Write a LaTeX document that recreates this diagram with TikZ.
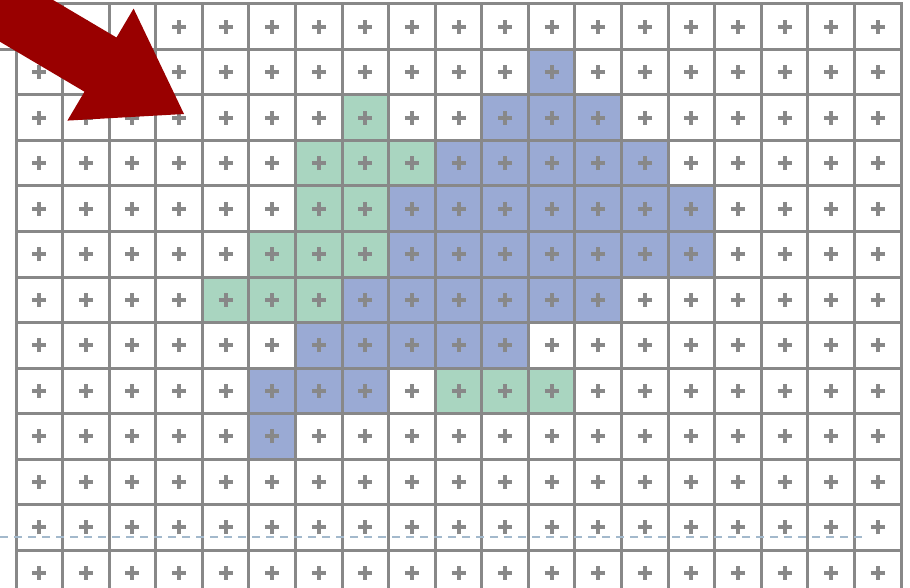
\documentclass[tikz,border=0pt]{standalone}
\usepackage{tikz}
\usetikzlibrary{backgrounds}
\usepackage{xcolor}

\definecolor{gridgray}{HTML}{888888}
\definecolor{cellblue}{HTML}{9AAAD4}
\definecolor{cellgreen}{HTML}{A9D5C0}
\definecolor{arrowred}{HTML}{990000}
\definecolor{dashblue}{HTML}{A3B9CC}

\begin{document}
\begin{tikzpicture}[
  x=1pt, y=-1pt,
  cell/.style={draw=gridgray, line width=3pt, minimum width=46.58pt,
               minimum height=45.5pt, inner sep=0pt, outer sep=0pt,
               path picture={\draw[plusmark]
                 (path picture bounding box.center) ++(-7pt,0) -- ++(14pt,0)
                 (path picture bounding box.center) ++(0,-7pt) -- ++(0,14pt);}},
  plusmark/.style={draw=gridgray, line width=4pt},
  blue/.style={fill=cellblue},
  green/.style={fill=cellgreen},
  dashline/.style={draw=dashblue, line width=2pt, dash pattern=on 8pt off 6pt},
  bigarrow/.style={fill=arrowred}
]
  \useasboundingbox (0,0) rectangle (910,588);
  \clip (0,0) rectangle (910,588);

  % grid of cells, 19 columns
  \foreach \r in {0,...,12}
    \foreach \c in {0,...,18}
      \node[cell] (c\c-\r) at ({39.29+46.58*\c},{26.75+45.5*\r}) {};
  % top row runs on past the left edge
  \node[cell] (cx-0) at ({39.29-46.58},26.75) {};

  % coloured cells
  \begin{scope}[on background layer]
    \foreach \c/\r in {11/1, 10/2,11/2,12/2,
                       9/3,10/3,11/3,12/3,13/3,
                       8/4,9/4,10/4,11/4,12/4,13/4,14/4,
                       8/5,9/5,10/5,11/5,12/5,13/5,14/5,
                       7/6,8/6,9/6,10/6,11/6,12/6,
                       6/7,7/7,8/7,9/7,10/7,
                       5/8,6/8,7/8, 5/9}
      \fill[blue] (c\c-\r.south west) rectangle (c\c-\r.north east);
    \foreach \c/\r in {7/2, 6/3,7/3,8/3, 6/4,7/4,
                       5/5,6/5,7/5, 4/6,5/6,6/6,
                       9/8,10/8,11/8}
      \fill[green] (c\c-\r.south west) rectangle (c\c-\r.north east);
  \end{scope}

  % dashed level line
  \coordinate (dashL) at (0,536.7);
  \coordinate (dashR) at (862,536.7);
  \draw[dashline] (dashL) -- (dashR);

  % arrow
  \fill[bigarrow] (-55.7,-64.3) -- (116.5,37.5) -- (133.6,8.6) -- (184,114)
    -- (67.4,120.6) -- (84.5,91.7) -- (-87.7,-10.1) -- cycle;
\end{tikzpicture}
\end{document}
